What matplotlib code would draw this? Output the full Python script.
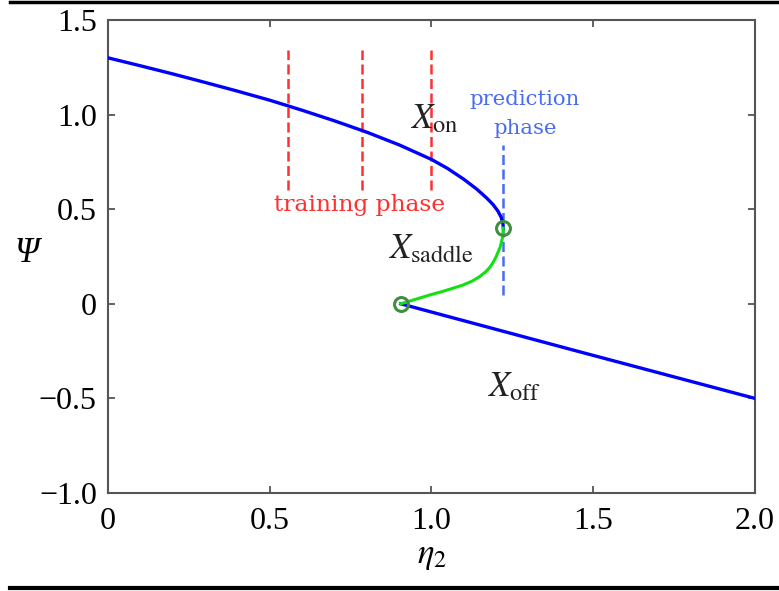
import matplotlib
matplotlib.use('Agg')
import matplotlib.pyplot as plt
from matplotlib.lines import Line2D

plt.rcParams['font.family'] = ['Liberation Serif', 'DejaVu Serif']
plt.rcParams['mathtext.fontset'] = 'stix'

# stable upper branch X_on (eta2, Psi)
on_eta = [0.0, 0.1, 0.2, 0.3, 0.4, 0.5, 0.6, 0.7, 0.8, 0.9, 1.0,
          1.05, 1.1, 1.14, 1.17, 1.19, 1.205, 1.215, 1.221, 1.222]
on_psi = [1.300, 1.258, 1.215, 1.170, 1.124, 1.076, 1.023, 0.967, 0.907,
          0.840, 0.763, 0.715, 0.658, 0.606, 0.560, 0.525, 0.491, 0.459,
          0.422, 0.40]

# unstable saddle branch
saddle_eta = [1.222, 1.2196, 1.2123, 1.2002, 1.191, 1.181, 1.168, 1.150,
              1.126, 1.097, 1.062, 1.030, 0.995, 0.963, 0.934, 0.905]
saddle_psi = [0.40, 0.35, 0.30, 0.25, 0.22, 0.194, 0.17, 0.145, 0.12,
              0.099, 0.08, 0.063, 0.047, 0.03, 0.015, 0.0]

# stable lower branch X_off
off_eta = [0.905, 1.45, 2.0]
off_psi = [0.0, -0.25, -0.5]

# bifurcation points
fold_eta = [1.222, 0.905]
fold_psi = [0.40, 0.0]

train_eta = [0.556, 0.785, 1.0]
train_span = (0.60, 1.34)
predict_eta = 1.22
predict_span = (0.045, 0.84)

RED = '#ff3030'
BLUE_TXT = '#4a6cf0'

fig = plt.figure(figsize=(7.79, 5.91), dpi=100)
ax = fig.add_axes([0.1386, 0.1658, 0.8306, 0.8004])

ax.plot(on_eta, on_psi, color='#0000ff', lw=2.4, zorder=3,
        solid_joinstyle='round')
ax.plot(off_eta, off_psi, color='#0000ff', lw=2.4, zorder=3)
ax.plot(saddle_eta, saddle_psi, color='#11e011', lw=2.2, zorder=3,
        solid_joinstyle='round')

for x in train_eta:
    ax.plot([x, x], train_span, color=RED, lw=1.8, ls=(0, (4, 1.8)), zorder=2)
ax.plot([predict_eta, predict_eta], predict_span, color=BLUE_TXT, lw=1.8,
        ls=(0, (4, 1.8)), zorder=2)

ax.plot(fold_eta, fold_psi, 'o', ms=10, mfc='none', mec='#3f8f3f', mew=2.2,
        zorder=4)

ax.text(0.933, 0.971, r'$X_{\mathrm{on}}$', fontsize=25, va='center',
        ha='left', color='#222222')
ax.text(0.866, 0.284, r'$X_{\mathrm{saddle}}$', fontsize=25, va='center',
        ha='left', color='#222222')
ax.text(1.172, -0.445, r'$X_{\mathrm{off}}$', fontsize=25, va='center',
        ha='left', color='#222222')

ax.text(0.779, 0.522, 'training phase', color=RED, fontsize=16.8,
        family='DejaVu Serif', ha='center', va='center')
ax.text(1.289, 1.003, 'prediction\nphase', color=BLUE_TXT, fontsize=15.3,
        family='DejaVu Serif', ha='center', va='center', linespacing=1.65)

ax.set_xlim(0, 2.0)
ax.set_ylim(-1.0, 1.5)
ax.set_xticks([0, 0.5, 1.0, 1.5, 2.0])
ax.set_xticklabels(['0', '0.5', '1.0', '1.5', '2.0'])
ax.set_yticks([-1.0, -0.5, 0, 0.5, 1.0, 1.5])
ax.set_yticklabels(['\u22121.0', '\u22120.5', '0', '0.5', '1.0', '1.5'])
ax.tick_params(direction='in', length=5, width=1.3, color='#555555',
               labelsize=23, top=True, right=True)
ax.tick_params(axis='y', pad=8)
ax.tick_params(axis='x', pad=10)
for s in ax.spines.values():
    s.set_color('#555555')
    s.set_linewidth(1.5)

ax.set_ylabel('\u03a8', fontsize=25, fontstyle='italic', rotation=0,
              va='center', ha='center')
ax.yaxis.set_label_coords(-0.125, 0.507)
ax.set_xlabel(r'$\eta_2$', fontsize=25, labelpad=2)

# black rules above and below the figure
fig.add_artist(Line2D([0.013, 1.0], [0.996, 0.996], color='black', lw=2.5))
fig.add_artist(Line2D([0.013, 1.0], [0.005, 0.005], color='black', lw=3))

fig.savefig('out.png', dpi=100, facecolor='white')
